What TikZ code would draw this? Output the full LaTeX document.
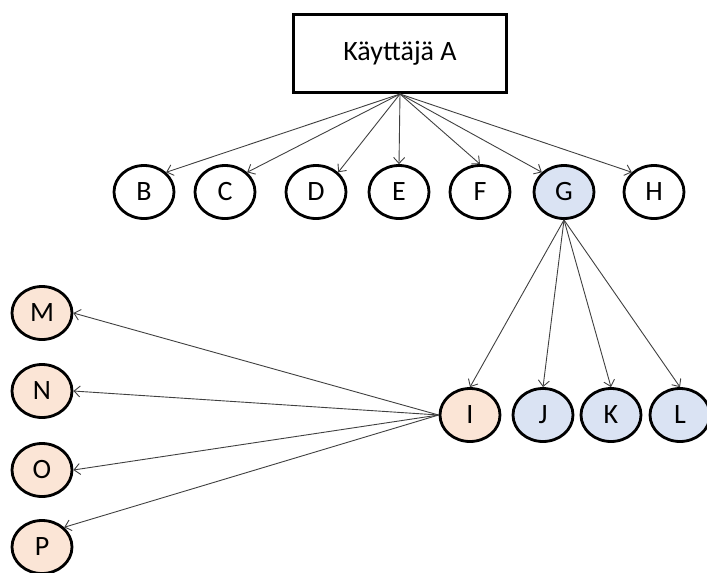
\documentclass[tikz,border=0pt]{standalone}
\usepackage{fontspec}
\setmainfont{Carlito}
\usetikzlibrary{shapes.geometric,arrows.meta}

\definecolor{nodeblue}{HTML}{DAE3F3}
\definecolor{nodepeach}{HTML}{FBE5D6}
\definecolor{edgegray}{HTML}{404040}

\tikzset{
  person/.style={ellipse, draw=black, line width=2.8pt, fill=white,
    minimum width=60pt, minimum height=53pt, inner sep=0pt,
    font=\fontsize{28}{33}\selectfont},
  blueperson/.style={person, fill=nodeblue},
  peachperson/.style={person, fill=nodepeach},
  userbox/.style={rectangle, draw=black, line width=3pt, fill=white,
    minimum width=213pt, minimum height=78pt, inner sep=0pt,
    font=\fontsize{28}{33}\selectfont},
  link/.style={draw=edgegray, line width=0.9pt,
    -{Straight Barb[length=6pt,width=11pt,line width=0.9pt]}}
}

\begin{document}
\begin{tikzpicture}[x=1pt,y=-1pt]
  \useasboundingbox (0,0) rectangle (707,573);

  % root user
  \node[userbox] (A) at (400,53.5) {Käyttäjä A};

  % first level
  \node[person]     (B) at (144,192) {B};
  \node[person]     (C) at (225,192) {C};
  \node[person]     (D) at (316,192) {D};
  \node[person]     (E) at (399,192) {E};
  \node[person]     (F) at (480,192) {F};
  \node[blueperson] (G) at (564,192) {G};
  \node[person]     (H) at (654,192) {H};

  % second level
  \node[peachperson] (I) at (470,415) {I};
  \node[blueperson]  (J) at (543,415) {J};
  \node[blueperson]  (K) at (611,415) {K};
  \node[blueperson]  (L) at (680,415) {L};

  % third level
  \node[peachperson] (M) at (42,313) {M};
  \node[peachperson] (N) at (42,391) {N};
  \node[peachperson] (O) at (42,470) {O};
  \node[peachperson] (P) at (42,547) {P};

  % connectors
  \draw[link] (A.south) -- (B.north east);
  \draw[link] (A.south) -- (C.north east);
  \draw[link] (A.south) -- (D.north east);
  \draw[link] (A.south) -- (E.north);
  \draw[link] (A.south) -- (F.north);
  \draw[link] (A.south) -- (G.north west);
  \draw[link] (A.south) -- (H.north west);

  \draw[link] (G.south) -- (I.north);
  \draw[link] (G.south) -- (J.north);
  \draw[link] (G.south) -- (K.north);
  \draw[link] (G.south) -- (L.north);

  \draw[link] (I.west) -- (M.east);
  \draw[link] (I.west) -- (N.east);
  \draw[link] (I.west) -- (O.east);
  \draw[link] (I.west) -- (P.north east);
\end{tikzpicture}
\end{document}
